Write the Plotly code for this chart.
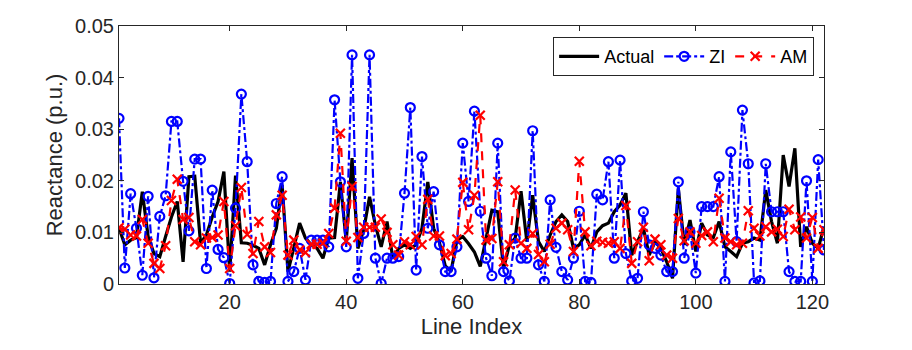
import plotly.graph_objects as go

# reactance values in p.u. x 1e-3
actual = [10.8, 7.6, 8.5, 9.0, 17.9, 9.2, 5.9, 5.3, 9.2, 13.0,
          16.0, 4.3, 20.8, 20.9, 7.9, 9.5, 13.0, 16.0, 21.8, 2.4,
          21.0, 8.0, 7.9, 7.5, 6.9, 3.7, 7.6, 10.8, 19.2, 2.4,
          7.0, 11.8, 8.9, 7.6, 6.9, 5.0, 8.9, 9.0, 19.8, 8.2,
          24.4, 6.9, 10.5, 16.9, 11.4, 7.2, 12.1, 5.0, 6.9, 7.6,
          6.9, 7.6, 10.8, 19.8, 10.8, 8.0, 3.5, 2.5, 8.5, 9.2,
          7.8, 6.2, 3.4, 9.0, 14.3, 14.0, 3.0, 7.6, 8.9, 18.0,
          8.2, 17.2, 8.2, 6.3, 9.5, 12.1, 13.4, 12.1, 6.9, 7.6,
          9.5, 6.9, 10.1, 11.3, 11.8, 14.0, 15.3, 17.6, 5.6, 8.2,
          10.8, 5.6, 8.2, 6.9, 4.3, 1.1, 18.5, 7.6, 12.4, 6.3,
          11.8, 9.5, 9.0, 12.1, 7.2, 6.3, 5.3, 7.9, 8.2, 8.9,
          8.5, 18.2, 12.1, 7.9, 25.0, 18.9, 26.3, 7.2, 11.1, 7.9,
          6.9, 11.1]

zi = [32.1, 3.1, 17.5, 10.8, 1.7, 17.0, 1.2, 13.1, 17.1, 31.5,
      31.5, 19.9, 10.3, 24.2, 24.2, 3.0, 18.2, 6.7, 5.1, 0.1,
      14.7, 36.8, 23.7, 3.7, 0.5, 0.3, 0.5, 15.6, 20.8, 0.5,
      2.4, 6.9, 0.8, 8.5, 8.5, 8.5, 7.2, 35.7, 19.8, 7.2,
      44.4, 1.1, 9.8, 44.4, 5.0, 0.1, 5.0, 5.0, 5.3, 17.6,
      34.2, 2.7, 24.7, 10.8, 17.9, 7.6, 2.4, 2.4, 7.2, 27.3,
      16.0, 33.5, 14.1, 5.0, 1.6, 27.3, 2.4, 0.6, 8.9, 5.0,
      5.0, 29.7, 3.7, 0.5, 16.3, 7.1, 2.4, 0.8, 5.0, 14.1,
      0.5, 0.3, 17.4, 16.3, 23.7, 5.0, 24.0, 5.9, 0.6, 1.1,
      14.0, 7.6, 6.9, 5.6, 2.4, 2.4, 19.8, 5.0, 10.1, 2.1,
      15.0, 15.0, 15.0, 20.8, 0.5, 25.6, 8.2, 33.7, 23.3, 0.2,
      0.6, 23.3, 14.0, 14.0, 14.0, 2.4, 0.5, 0.5, 20.0, 0.5,
      24.1, 6.6]

am = [10.9, 10.6, 9.5, 9.3, 12.5, 7.9, 4.0, 3.0, 7.4, 16.2,
      20.3, 12.5, 12.9, 8.2, 7.6, 8.9, 9.0, 9.5, 16.0, 3.0,
      11.3, 18.7, 9.6, 5.9, 12.1, 7.2, 6.1, 13.4, 17.2, 5.6,
      8.5, 6.6, 6.1, 7.7, 7.7, 7.9, 9.8, 14.7, 29.2, 8.3,
      18.9, 9.0, 11.0, 11.0, 11.0, 12.6, 10.0, 7.6, 5.6, 8.2,
      7.6, 9.2, 7.6, 16.4, 9.3, 9.3, 5.5, 5.9, 8.7, 19.7,
      10.5, 17.2, 32.7, 8.5, 8.8, 19.8, 4.3, 7.6, 18.2, 7.9,
      6.9, 9.8, 5.7, 4.3, 7.7, 10.8, 11.8, 10.5, 6.3, 23.8,
      10.1, 7.4, 8.3, 8.1, 7.9, 8.2, 6.9, 15.2, 4.0, 8.2,
      11.0, 4.5, 8.7, 7.6, 5.6, 5.0, 12.7, 8.4, 10.1, 7.9,
      9.4, 10.1, 8.2, 16.6, 8.9, 8.2, 7.6, 7.9, 14.2, 10.8,
      9.3, 11.1, 10.1, 10.6, 9.2, 14.5, 10.5, 13.0, 8.9, 12.9,
      6.9, 10.5]

line_index = list(range(1, len(actual) + 1))
x_ticks = [20, 40, 60, 80, 100, 120]
y_ticks = [0, 0.01, 0.02, 0.03, 0.04, 0.05]

FONT = "Liberation Sans, Arial, sans-serif"
AXIS_COLOR = "#262626"

fig = go.Figure()
fig.add_trace(go.Scatter(x=line_index, y=[v / 1000 for v in actual], name="Actual",
                         mode="lines", line=dict(color="black", width=3.2)))
fig.add_trace(go.Scatter(x=line_index, y=[v / 1000 for v in zi], name="ZI",
                         mode="lines+markers",
                         line=dict(color="#0000ff", width=2.2, dash="dashdot"),
                         marker=dict(symbol="circle-open", size=9, color="#0000ff",
                                     line=dict(width=2.2, color="#0000ff"))))
fig.add_trace(go.Scatter(x=line_index, y=[v / 1000 for v in am], name="AM",
                         mode="lines+markers",
                         line=dict(color="#ff0000", width=2.2, dash="dash"),
                         marker=dict(symbol="x-thin-open", size=9, color="#ff0000",
                                     line=dict(width=2.2, color="#ff0000"))))

# the page body adds an 8px offset, so margins are shifted to compensate
fig.update_layout(
    width=912, height=350,
    margin=dict(l=111, r=96, t=18, b=74),
    paper_bgcolor="white", plot_bgcolor="white",
    font=dict(family=FONT, size=20, color=AXIS_COLOR),
    legend=dict(orientation="h", x=0.986, y=0.957, xanchor="right", yanchor="top",
                bgcolor="white", bordercolor=AXIS_COLOR, borderwidth=1,
                font=dict(size=18, color="black"), itemwidth=40,
                tracegroupgap=0),
    showlegend=True,
)
fig.update_xaxes(range=[1, 122], tickvals=x_ticks, ticks="inside", ticklen=5,
                 showgrid=False, zeroline=False, showline=True, linecolor=AXIS_COLOR,
                 linewidth=1, mirror="ticks", tickcolor=AXIS_COLOR, automargin=False,
                 title=dict(text="Line Index", font=dict(size=22), standoff=6))
fig.update_yaxes(range=[0, 0.05], tickvals=y_ticks, ticks="inside", ticklen=5,
                 showgrid=False, zeroline=False, showline=True, linecolor=AXIS_COLOR,
                 linewidth=1, mirror="ticks", tickcolor=AXIS_COLOR, automargin=False,
                 title=dict(text="Reactance (p.u.)", font=dict(size=22), standoff=6))

fig.write_html("out.html")
